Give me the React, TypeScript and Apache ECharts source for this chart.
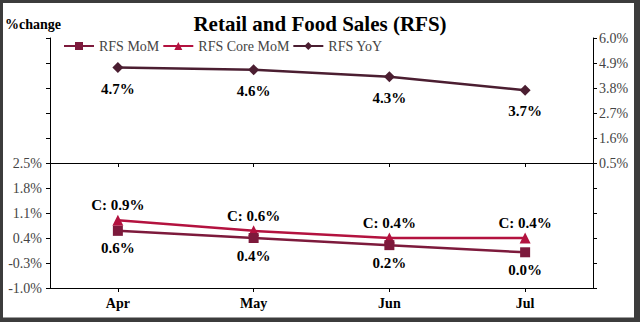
import React, { useEffect, useRef } from "react";
import * as echarts from "echarts";

const months = ["Apr", "May", "Jun", "Jul"];
const rfsMoM = [0.6, 0.4, 0.2, 0.0];
const rfsCoreMoM = [0.9, 0.6, 0.4, 0.4];
const rfsYoY = [4.7, 4.6, 4.3, 3.7];

const FONT = "'Liberation Serif', 'DejaVu Serif', serif";
const C_MOM = "#7d1a3c";
const C_CORE = "#b3123f";
const C_YOY = "#4b1e31";

export default function App() {
  const ref = useRef<HTMLDivElement>(null);
  useEffect(() => {
    const chart = echarts.init(ref.current!, null, { renderer: "svg" });
    const pct = (v: number) => v.toFixed(1) + "%";
    const axisLine = { show: true, onZero: false, lineStyle: { color: "#000", width: 1 } };
    const tick = { show: true, length: 4, lineStyle: { color: "#000" } };
    const axisLabel = { color: "#444", fontFamily: FONT, fontSize: 14 };
    const dataLabel = { fontFamily: FONT, fontSize: 15, fontWeight: "bold", color: "#000" };
    chart.setOption({
      animation: false,
      backgroundColor: "#fff",
      textStyle: { fontFamily: FONT },
      title: {
        text: "Retail and Food Sales (RFS)",
        left: "center",
        top: 8,
        textStyle: { fontFamily: FONT, fontSize: 21, fontWeight: "bold", color: "#000" },
      },
      legend: {
        left: 58,
        top: 34,
        itemWidth: 30,
        itemHeight: 10,
        itemGap: 3,
        textStyle: { fontFamily: FONT, fontSize: 14, color: "#444" },
        data: ["RFS MoM", "RFS Core MoM", "RFS YoY"],
      },
      graphic: [
        {
          type: "text",
          left: 5,
          top: 17,
          style: { text: "%change", fontFamily: FONT, fontSize: 14, fontWeight: "bold", fill: "#000" },
        },
        {
          type: "rect",
          shape: { x: 1.5, y: 1.5, width: 636, height: 318 },
          style: { fill: "none", stroke: "#3c3c3c", lineWidth: 3 },
          silent: true,
        },
        {
          type: "line",
          shape: { x1: 637, y1: 0, x2: 637, y2: 322 },
          style: { stroke: "#3c3c3c", lineWidth: 6 },
          silent: true,
        },
        {
          type: "line",
          shape: { x1: 0, y1: 320, x2: 640, y2: 320 },
          style: { stroke: "#3c3c3c", lineWidth: 5 },
          silent: true,
        },
      ],
      grid: [
        { left: 50, right: 47, top: 38, height: 125, containLabel: false },
        { left: 50, right: 47, top: 163, height: 125, containLabel: false },
      ],
      xAxis: [
        {
          type: "category",
          gridIndex: 0,
          data: months,
          boundaryGap: true,
          axisLine,
          axisTick: { ...tick, alignWithLabel: true },
          axisLabel: { show: false },
          splitLine: { show: false },
        },
        {
          type: "category",
          gridIndex: 1,
          data: months,
          boundaryGap: true,
          axisLine,
          axisTick: { ...tick, alignWithLabel: true },
          axisLabel: { fontFamily: FONT, fontSize: 14, fontWeight: "bold", color: "#000", margin: 8 },
          splitLine: { show: false },
        },
      ],
      yAxis: [
        {
          type: "value",
          gridIndex: 0,
          position: "left",
          min: 2.5,
          max: 6.0,
          interval: 0.7,
          axisLine,
          axisTick: tick,
          axisLabel: { show: false },
          splitLine: { show: false },
        },
        {
          type: "value",
          gridIndex: 0,
          position: "right",
          min: 0.5,
          max: 6.0,
          interval: 1.1,
          axisLine,
          axisTick: tick,
          axisLabel: { ...axisLabel, margin: 6, formatter: (v: number) => pct(v) },
          splitLine: { show: false },
        },
        {
          type: "value",
          gridIndex: 1,
          position: "left",
          min: -1.0,
          max: 2.5,
          interval: 0.7,
          axisLine,
          axisTick: tick,
          axisLabel: { ...axisLabel, margin: 8, formatter: (v: number) => pct(v) },
          splitLine: { show: false },
        },
        {
          type: "value",
          gridIndex: 1,
          position: "right",
          min: -1.0,
          max: 2.5,
          interval: 0.7,
          axisLine,
          axisTick: tick,
          axisLabel: { show: false },
          splitLine: { show: false },
        },
      ],
      series: [
        {
          name: "RFS MoM",
          type: "line",
          xAxisIndex: 1,
          yAxisIndex: 2,
          data: rfsMoM,
          symbol: "rect",
          symbolSize: 10,
          color: C_MOM,
          lineStyle: { width: 2.5, color: C_MOM },
          itemStyle: { color: C_MOM },
          label: {
            show: true,
            position: "bottom",
            distance: 5,
            ...dataLabel,
            formatter: (p: any) => pct(p.value),
          },
          z: 3,
        },
        {
          name: "RFS Core MoM",
          type: "line",
          xAxisIndex: 1,
          yAxisIndex: 2,
          data: rfsCoreMoM,
          symbol: "triangle",
          symbolSize: 11,
          color: C_CORE,
          lineStyle: { width: 2.5, color: C_CORE },
          itemStyle: { color: C_CORE },
          label: {
            show: true,
            position: "top",
            distance: 2,
            ...dataLabel,
            formatter: (p: any) => "C: " + pct(p.value),
          },
          z: 2,
        },
        {
          name: "RFS YoY",
          type: "line",
          xAxisIndex: 0,
          yAxisIndex: 1,
          data: rfsYoY,
          symbol: "diamond",
          symbolSize: 11,
          color: C_YOY,
          lineStyle: { width: 2.5, color: C_YOY },
          itemStyle: { color: C_YOY },
          label: {
            show: true,
            position: "bottom",
            distance: 8,
            ...dataLabel,
            formatter: (p: any) => pct(p.value),
          },
        },
      ],
    });
    return () => chart.dispose();
  }, []);
  return (
    <div
      ref={ref}
      style={{ position: "absolute", left: 0, top: 0, width: 640, height: 322 }}
    />
  );
}
